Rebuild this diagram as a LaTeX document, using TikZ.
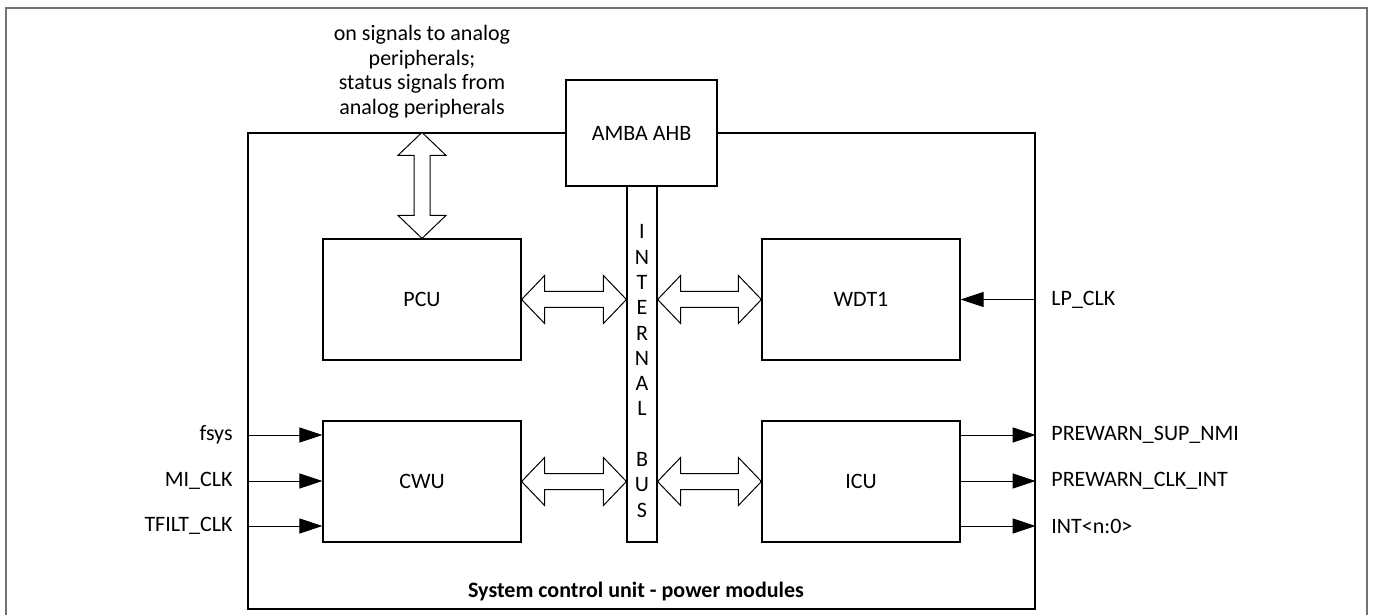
\documentclass[tikz,border=0pt]{standalone}
\usepackage{fontspec}
\setmainfont{Carlito}
\usetikzlibrary{arrows.meta}
\usetikzlibrary{calc}

\tikzset{
  blk/.style={draw,line width=0.6pt,fill=white,minimum width=99pt,minimum height=60.5pt,font=\fontsize{11}{13}\selectfont},
  sig/.style={line width=0.5pt,-{Triangle[length=11.5pt,width=7.5pt]}},
  lbl/.style={font=\fontsize{11}{13}\selectfont,inner sep=0pt},
  hollow/.style={line width=0.5pt,fill=white}
}

\newcommand{\hbus}[2]{%
  \draw[hollow] let \p1=(#1), \p2=(#2) in
    (\x1,\y1) -- (\x1+11.5pt,\y1+12pt) -- (\x1+11.5pt,\y1+4pt)
    -- (\x2-11.5pt,\y1+4pt) -- (\x2-11.5pt,\y1+12pt) -- (\x2,\y1)
    -- (\x2-11.5pt,\y1-12pt) -- (\x2-11.5pt,\y1-4pt)
    -- (\x1+11.5pt,\y1-4pt) -- (\x1+11.5pt,\y1-12pt) -- cycle;}
\newcommand{\vbus}[2]{%
  \draw[hollow] let \p1=(#1), \p2=(#2) in
    (\x1,\y1) -- (\x1+12pt,\y1-11.5pt) -- (\x1+4pt,\y1-11.5pt)
    -- (\x1+4pt,\y2+11.5pt) -- (\x1+12pt,\y2+11.5pt) -- (\x1,\y2)
    -- (\x1-12pt,\y2+11.5pt) -- (\x1-4pt,\y2+11.5pt)
    -- (\x1-4pt,\y1-11.5pt) -- (\x1-12pt,\y1-11.5pt) -- cycle;}

\begin{document}
\begin{tikzpicture}[x=0.5pt,y=-0.5pt]
\useasboundingbox (0,0) rectangle (1373,615);
\draw[black!55,line width=1pt] (6,615) -- (6,8) -- (1367,8) -- (1367,615);

\node[draw,line width=0.6pt,minimum width=393.5pt,minimum height=238pt] (scu) at (641.5,371) {};
\node[lbl,font=\fontsize{11}{13}\selectfont\bfseries] (title) at (636,592) {System control unit - power modules};

\node[blk,minimum width=75.5pt,minimum height=53pt] (ahb) at (641.5,133) {AMBA AHB};
\node[draw,line width=0.6pt,minimum width=15pt,minimum height=178pt] (bus) at (642,364) {};
\node[lbl,align=center,font=\fontsize{11}{12.65}\selectfont] (busname) at (642,371) {I\\N\\T\\E\\R\\N\\A\\L\\ \\B\\U\\S};

\node[blk] (pcu) at (422,299.5) {PCU};
\node[blk] (wdt) at (861,299.5) {WDT1};
\node[blk] (cwu) at (422,481.5) {CWU};
\node[blk] (icu) at (861,481.5) {ICU};

\node[lbl,align=center,font=\fontsize{11}{12.25}\selectfont] (analog) at (422,72) {on signals to analog\\peripherals;\\status signals from\\analog peripherals};
\vbus{pcu.north|-scu.north}{pcu.north}

\hbus{pcu.east}{bus.west|-pcu.east}
\hbus{bus.east|-wdt.west}{wdt.west}
\hbus{cwu.east}{bus.west|-cwu.east}
\hbus{bus.east|-icu.west}{icu.west}

\node[lbl,anchor=east] (fsys) at (233,435) {fsys};
\node[lbl,anchor=east] (miclk) at (233,481) {MI\_CLK};
\node[lbl,anchor=east] (tfilt) at (233,526) {TFILT\_CLK};
\draw[sig] (scu.west|-fsys) -- (cwu.west|-fsys);
\draw[sig] (scu.west|-miclk) -- (cwu.west|-miclk);
\draw[sig] (scu.west|-tfilt) -- (cwu.west|-tfilt);

\node[lbl,anchor=west] (lpclk) at (1051,299.5) {LP\_CLK};
\draw[sig] (scu.east|-lpclk) -- (wdt.east);

\node[lbl,anchor=west] (supnmi) at (1051,435) {PREWARN\_SUP\_NMI};
\node[lbl,anchor=west] (clkint) at (1051,481) {PREWARN\_CLK\_INT};
\node[lbl,anchor=west] (intn) at (1051,526) {INT<n:0>};
\draw[sig] (icu.east|-supnmi) -- (scu.east|-supnmi);
\draw[sig] (icu.east|-clkint) -- (scu.east|-clkint);
\draw[sig] (icu.east|-intn) -- (scu.east|-intn);

\end{tikzpicture}
\end{document}
